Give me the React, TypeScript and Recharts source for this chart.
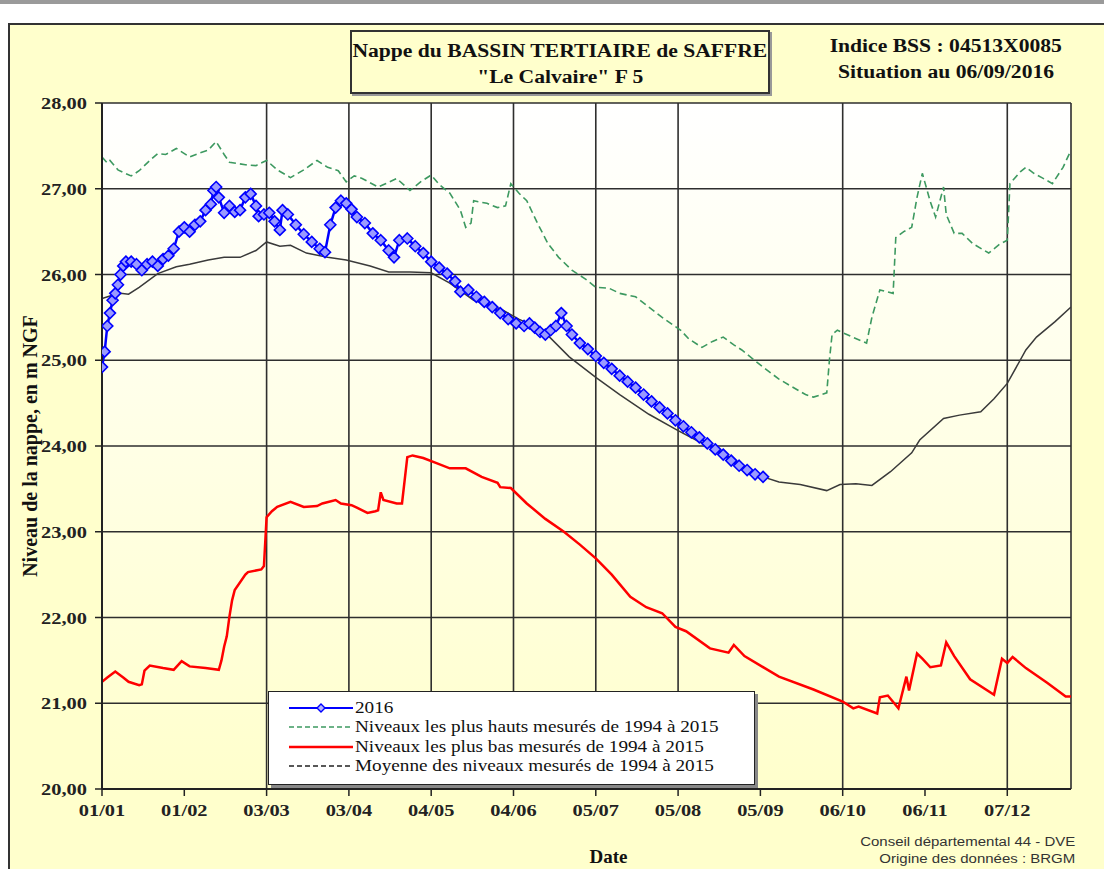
import React from 'react';
import { LineChart, Line, XAxis, YAxis, CartesianGrid, ReferenceLine } from 'recharts';

// jours depuis le 01/01/2016 (année bissextile), une graduation tous les 31 jours
const tickDays = [0, 31, 62, 93, 124, 155, 186, 217, 248, 279, 310, 341];
const tickLabels = ['01/01', '01/02', '03/03', '03/04', '04/05', '04/06', '05/07', '05/08', '05/09', '06/10', '06/11', '07/12'];
const gridDays = [62, 93, 124, 155, 186, 217, 279, 341, 365];
const levelTicks = [20, 21, 22, 23, 24, 25, 26, 27, 28];

// [jour, niveau en m NGF]
const niveaux2016: [number, number][] = [
  [0, 24.92], [1, 25.1], [2, 25.4], [3, 25.55], [4, 25.7], [5, 25.78], [6, 25.88], [7, 26.0], [8, 26.1],
  [9, 26.15], [11, 26.15], [13, 26.12], [15, 26.05], [17, 26.12], [19, 26.15], [21, 26.1], [23, 26.18],
  [25, 26.22], [27, 26.3], [29, 26.5], [31, 26.55], [33, 26.5], [35, 26.58], [37, 26.62], [39, 26.75],
  [41, 26.82], [42, 26.98], [43, 27.02], [44, 26.9], [46, 26.72], [48, 26.8], [50, 26.73], [52, 26.75],
  [54, 26.9], [56, 26.94], [58, 26.8], [59, 26.68], [61, 26.7], [63, 26.72], [65, 26.62], [67, 26.52],
  [68, 26.75], [70, 26.7], [73, 26.58], [76, 26.47], [79, 26.38], [82, 26.3], [84, 26.26], [86, 26.58],
  [88, 26.78], [90, 26.86], [92, 26.83], [94, 26.76], [96, 26.67], [99, 26.6], [102, 26.48], [105, 26.4],
  [108, 26.28], [110, 26.2], [112, 26.4], [115, 26.42], [118, 26.33], [121, 26.25], [124, 26.15],
  [127, 26.08], [130, 26.01], [133, 25.92], [135, 25.8], [138, 25.82], [141, 25.74], [144, 25.68],
  [147, 25.62], [150, 25.55], [153, 25.48], [156, 25.43], [159, 25.4], [161, 25.43], [163, 25.38],
  [165, 25.33], [167, 25.3], [169, 25.35], [171, 25.4], [173, 25.55], [175, 25.4], [177, 25.3],
  [180, 25.2], [183, 25.13], [186, 25.05], [189, 24.97], [192, 24.9], [195, 24.82], [198, 24.75],
  [201, 24.68], [204, 24.6], [207, 24.52], [210, 24.45], [213, 24.38], [216, 24.3], [219, 24.23],
  [222, 24.16], [225, 24.1], [228, 24.03], [231, 23.96], [234, 23.9], [237, 23.83], [240, 23.77],
  [243, 23.72], [246, 23.67], [249, 23.64],
];

const niveauxHauts: [number, number][] = [
  [0, 27.37], [2, 27.3], [3, 27.33], [6, 27.22], [8, 27.19], [11, 27.15], [14, 27.21], [18, 27.33],
  [21, 27.41], [24, 27.4], [28, 27.47], [33, 27.37], [37, 27.42], [40, 27.45], [43, 27.55], [46, 27.4],
  [48, 27.31], [54, 27.28], [58, 27.27], [62, 27.33], [66, 27.22], [71, 27.13], [76, 27.22], [81, 27.33],
  [85, 27.25], [89, 27.21], [92, 27.08], [95, 27.15], [98, 27.12], [104, 27.02], [107, 27.06],
  [111, 27.12], [116, 26.98], [120, 27.08], [124, 27.16], [127, 27.05], [131, 26.95], [135, 26.75],
  [137, 26.55], [139, 26.6], [140, 26.86], [145, 26.83], [149, 26.78], [152, 26.8], [154, 27.06],
  [157, 26.95], [160, 26.86], [164, 26.6], [168, 26.36], [172, 26.2], [177, 26.05], [182, 25.95],
  [186, 25.85], [191, 25.84], [195, 25.78], [201, 25.74], [206, 25.62], [211, 25.5], [218, 25.35],
  [221, 25.25], [226, 25.15], [230, 25.22], [234, 25.27], [238, 25.18], [241, 25.12], [249, 24.92],
  [255, 24.78], [260, 24.69], [265, 24.6], [268, 24.57], [273, 24.62], [274, 25.0], [275, 25.3],
  [277, 25.35], [282, 25.28], [288, 25.2], [290, 25.5], [293, 25.82], [298, 25.78], [299, 26.43],
  [302, 26.5], [305, 26.55], [307, 26.9], [309, 27.18], [312, 26.85], [314, 26.67], [317, 27.02],
  [318, 26.7], [321, 26.48], [324, 26.48], [328, 26.36], [334, 26.25], [338, 26.35], [341, 26.4],
  [342, 27.06], [346, 27.2], [348, 27.25], [351, 27.18], [354, 27.13], [358, 27.06], [362, 27.25],
  [365, 27.45],
];

const niveauxBas: [number, number][] = [
  [0, 21.25], [2, 21.3], [5, 21.37], [8, 21.3], [10, 21.25], [14, 21.21], [15, 21.22], [16, 21.38],
  [18, 21.44], [23, 21.41], [27, 21.39], [30, 21.49], [33, 21.43], [39, 21.41], [44, 21.39], [45, 21.5],
  [46, 21.66], [47, 21.78], [48, 22.01], [49, 22.2], [50, 22.32], [54, 22.5], [55, 22.53], [60, 22.56],
  [61, 22.6], [62, 23.17], [64, 23.24], [66, 23.29], [71, 23.35], [76, 23.29], [81, 23.3], [83, 23.33],
  [88, 23.37], [90, 23.33], [94, 23.31], [96, 23.28], [100, 23.22], [103, 23.24], [104, 23.25],
  [105, 23.46], [106, 23.37], [111, 23.33], [113, 23.33], [114, 23.6], [115, 23.87], [117, 23.89],
  [121, 23.86], [126, 23.8], [131, 23.74], [137, 23.74], [143, 23.64], [149, 23.57], [150, 23.52],
  [154, 23.51], [160, 23.33], [167, 23.15], [174, 23.0], [180, 22.85], [186, 22.69], [192, 22.5],
  [199, 22.24], [205, 22.12], [211, 22.05], [216, 21.89], [220, 21.84], [229, 21.64], [236, 21.59],
  [238, 21.68], [242, 21.55], [255, 21.31], [268, 21.16], [279, 21.02], [283, 20.94], [285, 20.96],
  [292, 20.88], [293, 21.07], [296, 21.09], [300, 20.94], [303, 21.31], [304, 21.15], [307, 21.58],
  [309, 21.52], [312, 21.42], [316, 21.44], [318, 21.71], [321, 21.55], [327, 21.28], [336, 21.1],
  [339, 21.52], [341, 21.47], [343, 21.54], [348, 21.41], [356, 21.24], [363, 21.08], [365, 21.08],
];

const niveauxMoyens: [number, number][] = [
  [0, 25.72], [3, 25.75], [7, 25.78], [10, 25.77], [14, 25.85], [21, 26.01], [28, 26.09], [33, 26.12],
  [40, 26.17], [46, 26.2], [52, 26.2], [58, 26.28], [62, 26.38], [67, 26.33], [71, 26.34], [77, 26.25],
  [85, 26.2], [92, 26.17], [101, 26.1], [108, 26.03], [116, 26.03], [124, 26.02], [131, 25.9],
  [140, 25.7], [150, 25.6], [157, 25.48], [166, 25.35], [176, 25.04], [186, 24.8], [195, 24.6],
  [206, 24.37], [217, 24.18], [225, 24.05], [234, 23.92], [242, 23.76], [249, 23.64], [255, 23.58],
  [263, 23.55], [273, 23.48], [278, 23.55], [284, 23.56], [290, 23.54], [297, 23.7], [305, 23.92],
  [308, 24.07], [317, 24.32], [323, 24.36], [331, 24.4], [336, 24.55], [341, 24.73], [348, 25.12],
  [352, 25.27], [359, 25.45], [365, 25.62],
];

const toPoints = (pairs: [number, number][]) => pairs.map(([day, niveau]) => ({ day, niveau }));

const serif = '"Liberation Serif", "Times New Roman", serif';
const STRETCH = 1.2;

const formatLevel = (v: number) => v.toFixed(2).replace('.', ',');
const formatDay = (d: number) => tickLabels[tickDays.indexOf(d)] ?? '';

const XTick = (props: any) => {
  const { x, y, payload } = props;
  return (
    <g transform={`translate(${x},${y}) scale(${STRETCH},1)`}>
      <text textAnchor="middle" dy={18} fontFamily={serif} fontWeight="bold" fontSize={17} fill="#222">
        {formatDay(payload.value)}
      </text>
    </g>
  );
};

const YTick = (props: any) => {
  const { x, y, payload } = props;
  return (
    <g transform={`translate(${x},${y}) scale(${STRETCH},1)`}>
      <text textAnchor="end" dy={6} fontFamily={serif} fontWeight="bold" fontSize={17} fill="#222">
        {formatLevel(payload.value)}
      </text>
    </g>
  );
};

const renderDiamond = (props: any) => {
  const { cx, cy, index } = props;
  if (cx == null || cy == null) return <g key={`n-${index}`} />;
  const r = 5.5;
  return (
    <path
      key={`d-${index}`}
      d={`M${cx},${cy - r}L${cx + r},${cy}L${cx},${cy + r}L${cx - r},${cy}Z`}
      fill="#9a9aff"
      stroke="#0000ff"
      strokeWidth={1.6}
    />
  );
};

const Stretched = ({ children, origin = 'left' }: { children: React.ReactNode; origin?: string }) => (
  <span style={{ display: 'inline-block', transform: `scaleX(${STRETCH})`, transformOrigin: origin, whiteSpace: 'nowrap' }}>
    {children}
  </span>
);

const legendItems = [
  { label: '2016', color: '#0000ff', dash: undefined, width: 2, marker: true },
  { label: 'Niveaux les plus hauts mesurés de 1994 à 2015', color: '#3d9960', dash: '5 3', width: 1.5, marker: false },
  { label: 'Niveaux les plus bas mesurés de 1994 à 2015', color: '#ff0000', dash: undefined, width: 2.5, marker: false },
  { label: 'Moyenne des niveaux mesurés de 1994 à 2015', color: '#222', dash: '5 3', width: 1.5, marker: false },
];

export default function App() {
  return (
    <div style={{ position: 'absolute', left: 0, top: 0, width: 1104, height: 869, overflow: 'hidden', background: '#fff' }}>
      <div style={{ position: 'absolute', left: 0, top: 0, width: 1104, height: 4, background: '#9a9a9a' }} />
      <div
        style={{
          position: 'absolute', left: 8, top: 23, width: 1110, height: 880,
          border: '2px solid #333', background: '#ffffcc',
        }}
      />

      {/* titre */}
      <div
        style={{
          position: 'absolute', left: 350, top: 30, width: 420, height: 64,
          border: '2px solid #333', background: '#ffffcc', boxShadow: '2px 2px 0 #999',
          fontFamily: serif, fontWeight: 'bold', fontSize: 18, color: '#111', textAlign: 'center', lineHeight: '26px',
          paddingTop: 6, boxSizing: 'border-box',
        }}
      >
        <div><Stretched origin="center">Nappe du BASSIN TERTIAIRE de SAFFRE</Stretched></div>
        <div><Stretched origin="center">"Le Calvaire" F 5</Stretched></div>
      </div>
      <div
        style={{
          position: 'absolute', left: 830, top: 33, width: 232, fontFamily: serif, fontWeight: 'bold',
          fontSize: 18, color: '#111', textAlign: 'center', lineHeight: '26px',
        }}
      >
        <div><Stretched origin="center">Indice BSS : 04513X0085</Stretched></div>
        <div><Stretched origin="center">Situation au 06/09/2016</Stretched></div>
      </div>

      <div style={{ position: 'absolute', left: 0, top: 0 }}>
        <LineChart width={1104} height={869} margin={{ top: 103, right: 33, bottom: 50, left: 22 }}>
          <defs>
            <linearGradient id="fondGraphe" x1="0" y1="0" x2="0" y2="1">
              <stop offset="0%" stopColor="#ffffff" />
              <stop offset="100%" stopColor="#ffffcc" />
            </linearGradient>
          </defs>
          <CartesianGrid vertical={false} fill="url(#fondGraphe)" fillOpacity={1} stroke="#2e2e2e" strokeWidth={1.6} />
          {gridDays.map((d) => (
            <ReferenceLine key={d} x={d} stroke="#2e2e2e" strokeWidth={1.6} />
          ))}
          <XAxis
            dataKey="day"
            type="number"
            domain={[0, 365]}
            ticks={tickDays}
            interval={0}
            height={30}
            tick={<XTick />}
            tickSize={7}
            axisLine={{ stroke: '#222', strokeWidth: 2 }}
            tickLine={{ stroke: '#222', strokeWidth: 1.5 }}
            allowDataOverflow
            label={{
              value: 'Date', position: 'center', dx: 22, dy: 52,
              style: { fontFamily: serif, fontWeight: 'bold', fontSize: 19, fill: '#111' },
            }}
          />
          <YAxis
            type="number"
            domain={[20, 28]}
            ticks={levelTicks}
            interval={0}
            width={80}
            tick={<YTick />}
            tickSize={7}
            tickMargin={8}
            axisLine={{ stroke: '#222', strokeWidth: 2 }}
            tickLine={{ stroke: '#222', strokeWidth: 1.5 }}
            allowDataOverflow
            label={{
              value: 'Niveau de la nappe, en m NGF', angle: -90, position: 'center', dx: -32,
              style: { fontFamily: serif, fontWeight: 'bold', fontSize: 20, fill: '#111', textAnchor: 'middle' },
            }}
          />
          <Line data={toPoints(niveauxBas)} dataKey="niveau" type="linear" stroke="#ff0000" strokeWidth={2.5} dot={false} isAnimationActive={false} />
          <Line data={toPoints(niveauxHauts)} dataKey="niveau" type="linear" stroke="#3d9960" strokeWidth={1.6} strokeDasharray="7 4" dot={false} isAnimationActive={false} />
          <Line data={toPoints(niveauxMoyens)} dataKey="niveau" type="linear" stroke="#3a3a3a" strokeWidth={1.5} dot={false} isAnimationActive={false} />
          <Line data={toPoints(niveaux2016)} dataKey="niveau" type="linear" stroke="#0000ff" strokeWidth={2.5} dot={renderDiamond} activeDot={false} isAnimationActive={false} />
        </LineChart>
      </div>

      {/* légende */}
      <div
        style={{
          position: 'absolute', left: 268, top: 691, width: 487, height: 94, boxSizing: 'border-box',
          border: '1.5px solid #222', background: '#fff', boxShadow: '3px 3px 0 #888',
          padding: '6px 0 0 0', fontFamily: serif, fontSize: 16, color: '#111',
        }}
      >
        {legendItems.map((it) => (
          <div key={it.label} style={{ display: 'flex', alignItems: 'center', height: 19.5 }}>
            <svg width={84} height={14} style={{ marginLeft: 2, flex: 'none' }}>
              <line x1={18} y1={7} x2={82} y2={7} stroke={it.color} strokeWidth={it.width} strokeDasharray={it.dash} />
              {it.marker && <path d="M50,3L54,7L50,11L46,7Z" fill="#b4b4ff" stroke="#0000ff" strokeWidth={1.4} />}
            </svg>
            <Stretched>{it.label}</Stretched>
          </div>
        ))}
      </div>

      <div
        style={{
          position: 'absolute', left: 860, top: 834, width: 215, textAlign: 'right',
          fontFamily: '"Liberation Sans", Arial, sans-serif', fontSize: 12.5, color: '#333', lineHeight: '17px',
        }}
      >
        <div><Stretched origin="right">Conseil départemental 44 - DVE</Stretched></div>
        <div><Stretched origin="right">Origine des données : BRGM</Stretched></div>
      </div>
    </div>
  );
}
